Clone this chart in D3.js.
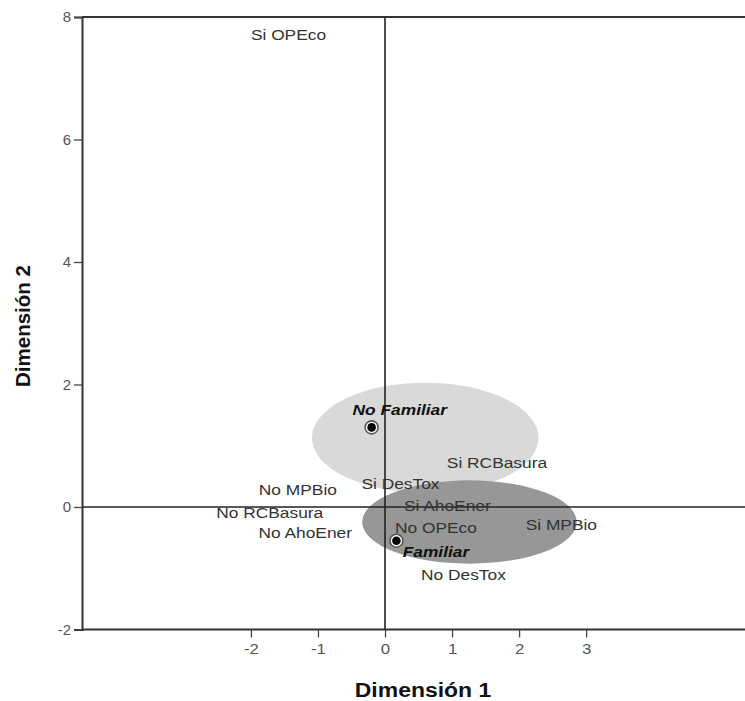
<!DOCTYPE html>
<html><head><meta charset="utf-8">
<script src="https://cdn.jsdelivr.net/npm/d3@7"></script>
<style>body{margin:0;background:#fff}svg{display:block}</style>
</head><body>
<svg id="c" width="745" height="701"></svg>
<script>
// ---- data ----
const xTicks = [-2, -1, 0, 1, 2, 3];
const yTicks = [-2, 0, 2, 4, 6, 8];
const xDomain = [-4.52, 5.37];
const yDomain = [-2, 8];
const catLabels = ["Si OPEco","Si RCBasura","Si DesTox","No MPBio","Si AhoEner","No RCBasura","No OPEco","Si MPBio","No AhoEner","No DesTox"];
const catX = [-1.44, 1.67, 0.23, -1.30, 0.93, -1.72, 0.76, 2.63, -1.19, 1.17];
const catY = [7.71, 0.72, 0.39, 0.28, 0.02, -0.09, -0.33, -0.28, -0.42, -1.10];
const groupNames = ["No Familiar", "Familiar"];
const groupX = [-0.20, 0.17];
const groupY = [1.30, -0.55];
const groupLabelX = [0.22, 0.76];
const groupLabelY = [1.59, -0.72];
const ellCX = [0.60, 1.26];
const ellCY = [1.13, -0.245];
const ellRX = [1.69, 1.60];
const ellRY = [0.90, 0.68];
const ellFill = ["#d9d9d9", "#979797"];

// ---- chart ----
const svg = d3.select("#c");
const font = "'Liberation Sans', Arial, Helvetica, sans-serif";
const SX = 1.12;
const x = d3.scaleLinear().domain(xDomain).range([82, 745]);
const y = d3.scaleLinear().domain(yDomain).range([629.5, 17]);

// ellipses
svg.selectAll("ellipse.g").data(groupNames).join("ellipse")
  .attr("cx", (d,i)=>x(ellCX[i])).attr("cy", (d,i)=>y(ellCY[i]))
  .attr("rx", (d,i)=>x(ellRX[i]) - x(0)).attr("ry", (d,i)=>y(0) - y(ellRY[i]))
  .attr("fill", (d,i)=>ellFill[i]);

// zero lines
svg.append("line").attr("x1", x(0)).attr("x2", x(0)).attr("y1", y(8)).attr("y2", y(-2))
  .attr("stroke", "#222").attr("stroke-width", 1.6);
svg.append("line").attr("x1", x(xDomain[0])).attr("x2", x(xDomain[1])).attr("y1", y(0)).attr("y2", y(0))
  .attr("stroke", "#222").attr("stroke-width", 1.6);

// frame: top line
svg.append("line").attr("x1", x(xDomain[0])).attr("x2", 745).attr("y1", y(8)).attr("y2", y(8))
  .attr("stroke", "#333").attr("stroke-width", 2);

// axes
const fmt = d => String(d);
const gx = svg.append("g").attr("transform", `translate(0,${y(-2)})`)
  .call(d3.axisBottom(x).tickValues(xTicks).tickSize(8).tickPadding(6).tickFormat(fmt));
const gy = svg.append("g").attr("transform", `translate(${x(xDomain[0])},0)`)
  .call(d3.axisLeft(y).tickValues(yTicks).tickSize(8).tickPadding(3).tickFormat(fmt));
[gx, gy].forEach(g => {
  g.select(".domain").attr("stroke", "#333").attr("stroke-width", 2);
  g.selectAll(".tick line").attr("stroke", "#444").attr("stroke-width", 1.3);
  g.selectAll(".tick text").attr("font-family", font).attr("font-size", 15).attr("fill", "#555");
});
gx.select(".domain").attr("d", `M${x(xDomain[0])},0H745`);
gx.selectAll(".tick text").attr("transform", `scale(${SX},1)`);

// category labels
svg.selectAll("text.cat").data(catLabels).join("text")
  .attr("class", "cat")
  .attr("transform", (d,i)=>`translate(${x(catX[i])},${y(catY[i])}) scale(${SX},1)`)
  .attr("text-anchor", "middle").attr("dy", "0.36em")
  .attr("font-family", font).attr("font-size", 15.5).attr("fill", "#333")
  .text(d=>d);

// group points
groupNames.forEach((g,i) => {
  const px = x(groupX[i]), py = y(groupY[i]);
  svg.append("circle").attr("cx", px).attr("cy", py).attr("r", 6.5)
    .attr("fill", "#fff").attr("stroke", "#555").attr("stroke-width", 1.6);
  svg.append("circle").attr("cx", px).attr("cy", py).attr("r", 4.3).attr("fill", "#000");
});
svg.selectAll("text.grp").data(groupNames).join("text")
  .attr("class", "grp")
  .attr("transform", (d,i)=>`translate(${x(groupLabelX[i])},${y(groupLabelY[i])}) scale(${SX},1)`)
  .attr("text-anchor", "middle").attr("dy", "0.36em")
  .attr("font-family", font).attr("font-size", 15.5).attr("font-weight", "bold")
  .attr("font-style", "italic").attr("fill", "#111")
  .text(d=>d);

// axis titles
svg.append("text").attr("transform", `translate(423,697) scale(${SX},1)`)
  .attr("text-anchor", "middle").attr("font-family", font).attr("font-size", 20.5)
  .attr("font-weight", "bold").attr("fill", "#111").text("Dimensión 1");
svg.append("text").attr("transform", `translate(30,326) rotate(-90)`)
  .attr("text-anchor", "middle").attr("font-family", font).attr("font-size", 20.5)
  .attr("font-weight", "bold").attr("fill", "#111").text("Dimensión 2");
</script>
</body></html>
